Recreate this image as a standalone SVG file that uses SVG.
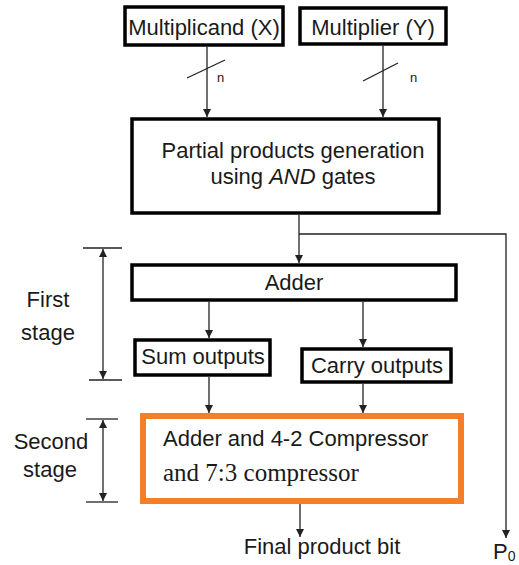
<svg xmlns="http://www.w3.org/2000/svg" width="519" height="565" viewBox="0 0 519 565">
<defs>
<style>
.box{fill:#fff;stroke:#000;stroke-width:3.5}
.obox{fill:#fff;stroke:#F47F2B;stroke-width:6}
.t{font-family:"Liberation Sans",Arial,sans-serif;font-size:22px;fill:#1a1a1a}
.ts{font-family:"Liberation Serif","Times New Roman",serif;font-size:25px;fill:#1a1a1a}
.n{font-family:"Liberation Sans",Arial,sans-serif;font-size:13px;fill:#1a1a1a}
.ln{fill:none;stroke:#222;stroke-width:1.3}
</style>
<marker id="ah" viewBox="0 0 10 10" refX="10" refY="5" markerWidth="8" markerHeight="8" markerUnits="userSpaceOnUse" orient="auto">
<path d="M0,0 L10,5 L0,10 z" fill="#222"/>
</marker>
<marker id="ahs" viewBox="0 0 10 10" refX="10" refY="5" markerWidth="8" markerHeight="8" markerUnits="userSpaceOnUse" orient="auto-start-reverse">
<path d="M0,0 L10,5 L0,10 z" fill="#222"/>
</marker>
</defs>
<rect width="519" height="565" fill="#fff"/>
<g id="connectors">
<line class="ln" x1="207" y1="47" x2="207" y2="117" marker-end="url(#ah)"/>
<line class="ln" x1="187" y1="78" x2="225" y2="60"/>
<line class="ln" x1="383" y1="46" x2="383" y2="117" marker-end="url(#ah)"/>
<line class="ln" x1="363" y1="81" x2="398" y2="63"/>
<line class="ln" x1="299" y1="215" x2="299" y2="263" marker-end="url(#ah)"/>
<polyline class="ln" points="299,234 506,234 506,538" marker-end="url(#ah)"/>
<line class="ln" x1="209" y1="302" x2="209" y2="338" marker-end="url(#ah)"/>
<line class="ln" x1="363" y1="302" x2="363" y2="347" marker-end="url(#ah)"/>
<line class="ln" x1="209" y1="377" x2="209" y2="413" marker-end="url(#ah)"/>
<line class="ln" x1="363" y1="384" x2="363" y2="413" marker-end="url(#ah)"/>
<line class="ln" x1="300" y1="503" x2="300" y2="537" marker-end="url(#ah)"/>
</g>
<g id="n-labels">
<text class="n" x="217" y="82">n</text>
<text class="n" x="410" y="82">n</text>
</g>
<g id="multiplicand">
<rect class="box" x="125" y="7" width="158" height="38"/>
<text class="t" x="204" y="35" text-anchor="middle">Multiplicand (X)</text>
</g>
<g id="multiplier">
<rect class="box" x="300" y="8" width="146" height="36"/>
<text class="t" x="373" y="35" text-anchor="middle">Multiplier (Y)</text>
</g>
<g id="partial">
<rect class="box" x="132" y="119" width="307" height="94"/>
<text class="t" x="293" y="158" text-anchor="middle">Partial products generation</text>
<text class="t" x="293" y="184" text-anchor="middle">using <tspan font-style="italic">AND</tspan> gates</text>
</g>
<g id="adder">
<rect class="box" x="132" y="265" width="324" height="35"/>
<text class="t" x="294" y="290" text-anchor="middle">Adder</text>
</g>
<g id="sum">
<rect class="box" x="135" y="340" width="135" height="35"/>
<text class="t" x="203" y="364" text-anchor="middle">Sum outputs</text>
</g>
<g id="carry">
<rect class="box" x="302" y="349" width="149" height="33"/>
<text class="t" x="377" y="373" text-anchor="middle">Carry outputs</text>
</g>
<g id="compressor">
<rect class="obox" x="143" y="416" width="318" height="85"/>
<text class="t" x="163" y="446">Adder and 4-2 Compressor</text>
<text class="ts" x="163" y="481">and 7:3 compressor</text>
</g>
<g id="first-stage">
<line class="ln" x1="83" y1="248" x2="122" y2="248"/>
<line class="ln" x1="89" y1="380" x2="122" y2="380"/>
<line class="ln" x1="103" y1="249" x2="103" y2="379" marker-start="url(#ahs)" marker-end="url(#ah)"/>
<text class="t" x="48" y="307" text-anchor="middle">First</text>
<text class="t" x="48" y="340" text-anchor="middle">stage</text>
</g>
<g id="second-stage">
<line class="ln" x1="86" y1="419" x2="118" y2="419"/>
<line class="ln" x1="86" y1="502" x2="118" y2="502"/>
<line class="ln" x1="103" y1="420" x2="103" y2="501" marker-start="url(#ahs)" marker-end="url(#ah)"/>
<text class="t" x="51" y="449" text-anchor="middle">Second</text>
<text class="t" x="50" y="477" text-anchor="middle">stage</text>
</g>
<g id="final">
<text class="t" x="322" y="554" text-anchor="middle">Final product bit</text>
</g>
<g id="p0">
<text class="t" x="493" y="559">P<tspan font-size="14" dy="2">0</tspan></text>
</g>
</svg>
